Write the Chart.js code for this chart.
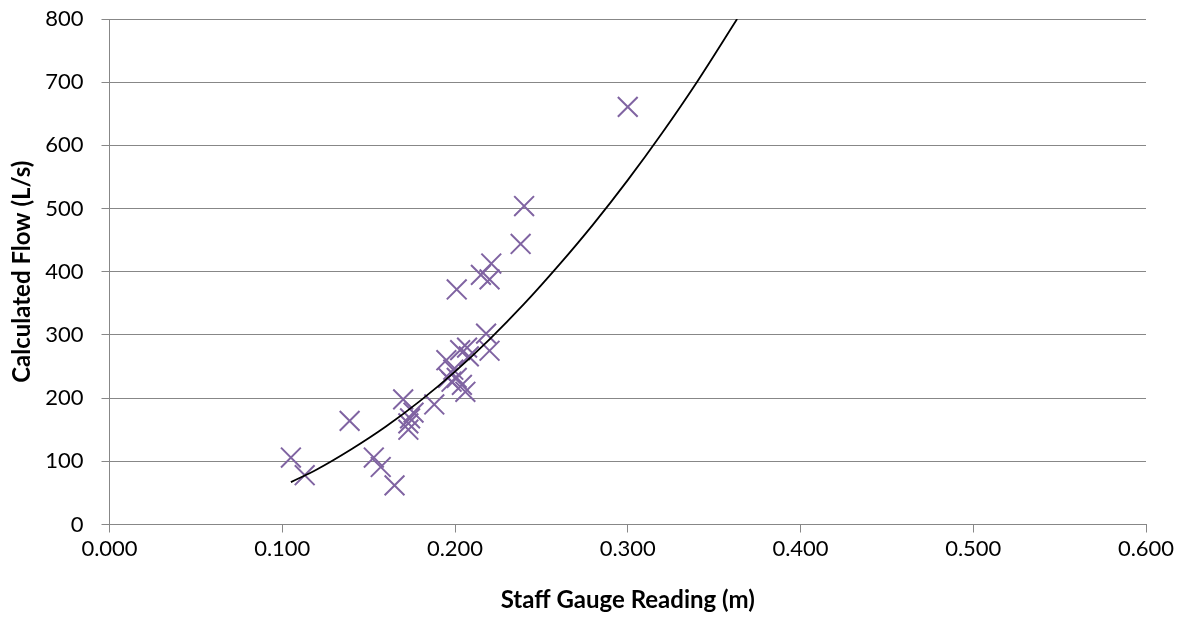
<!DOCTYPE html>
<html>
<head>
<meta charset="utf-8">
<script src="https://cdn.jsdelivr.net/npm/chart.js@4/dist/chart.umd.min.js"></script>
<style>
html,body{margin:0;padding:0;background:#fff;}
canvas{display:block;}
</style>
</head>
<body>
<canvas id="c" width="1186" height="620"></canvas>
<script>
// Observed points: staff gauge reading (m) and calculated flow (L/s)
const gaugeReadings = [0.105,0.113,0.139,0.153,0.157,0.165,0.170,0.176,0.174,0.173,0.173,0.188,0.195,0.196,0.199,0.201,0.198,0.204,0.206,0.203,0.207,0.208,0.218,0.220,0.201,0.215,0.220,0.221,0.238,0.240,0.300];
const flows = [106,78,164,106,91,62,198,177,168,160,150,190,260,232,245,232,226,221,210,276,280,266,302,275,372,395,388,413,444,504,661];
// Trend line positions
const trendX = [0.105,0.12,0.14,0.16,0.18,0.20,0.22,0.24,0.26,0.28,0.30,0.32,0.34,0.3633];
const trendY = [67,87,119,155,196,242,293,349,410,475,545,620,700,800];
// Axis ticks
const xTicks = [0,0.1,0.2,0.3,0.4,0.5,0.6];
const yTicks = [0,100,200,300,400,500,600,700,800];

const pts = gaugeReadings.map((x,i)=>({x:x,y:flows[i]}));
const trend = trendX.map((x,i)=>({x:x,y:trendY[i]}));

const gridCol = '#878787';
const tickFont = {family:'Lato, "Open Sans", sans-serif', size:22};
const titleFont = {family:'Lato, "Open Sans", sans-serif', size:24, weight:'bold'};

new Chart(document.getElementById('c'), {
  type:'scatter',
  data:{
    datasets:[
      {data:pts, pointStyle:'crossRot', pointRadius:14, pointBorderWidth:2,
       borderColor:'#8064A2', backgroundColor:'#8064A2', showLine:false, order:2},
      {data:trend, showLine:true, pointRadius:0, borderColor:'#000', borderWidth:1.8,
       cubicInterpolationMode:'monotone', fill:false, order:1}
    ]
  },
  options:{
    responsive:false, animation:false,
    layout:{padding:{top:19,right:40,bottom:0,left:0}},
    plugins:{legend:{display:false}, tooltip:{enabled:false}},
    scales:{
      x:{type:'linear', min:0, max:0.6,
        afterBuildTicks:s=>{s.ticks = xTicks.map(v=>({value:v}));},
        afterFit:s=>{s.height = 620-524.5; s.paddingLeft = 0; s.paddingRight = 0;},
        ticks:{callback:v=>Number(v).toFixed(3), font:tickFont, color:'#000', padding:3, maxRotation:0},
        grid:{drawOnChartArea:false, drawTicks:true, tickLength:8, color:gridCol, lineWidth:1},
        border:{color:gridCol, width:1},
        title:{display:true, text:'Staff Gauge Reading (m)', font:titleFont, color:'#000', padding:{top:0,bottom:5}}
      },
      y:{type:'linear', min:0, max:800,
        afterBuildTicks:s=>{s.ticks = yTicks.map(v=>({value:v}));},
        afterFit:s=>{s.width = 109.5; s.paddingTop = 0; s.paddingBottom = 0;},
        ticks:{font:tickFont, color:'#000', padding:18},
        grid:{drawOnChartArea:true, drawTicks:true, tickLength:8, color:gridCol, lineWidth:1},
        border:{color:gridCol, width:1},
        title:{display:true, text:'Calculated Flow (L/s)', font:titleFont, color:'#000', padding:{top:8,bottom:0}}
      }
    }
  }
});
</script>
</body>
</html>
